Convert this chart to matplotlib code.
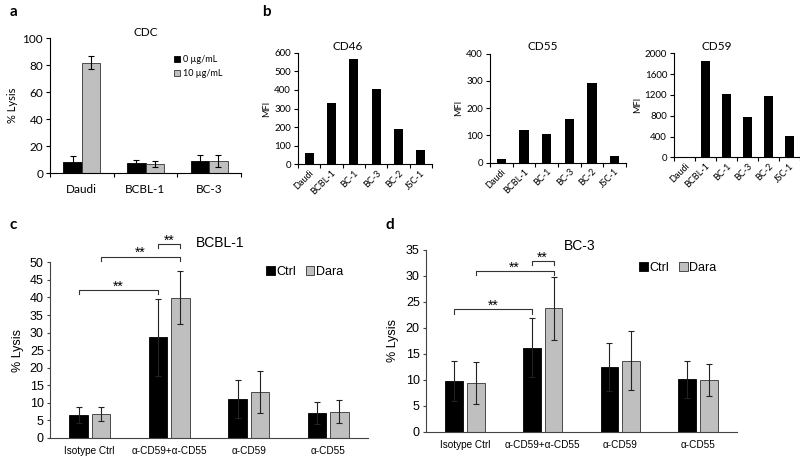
import numpy as np
import matplotlib
matplotlib.use('Agg')
import matplotlib.pyplot as plt

# --- data ---
# a: CDC
cdc_cells = ['Daudi', 'BCBL-1', 'BC-3']
cdc_0 = [8.5, 7.3, 9.0]
cdc_0_err = [4.0, 2.3, 4.8]
cdc_10 = [82.0, 7.0, 8.8]
cdc_10_err = [5.0, 2.0, 4.5]

# b: MFI
mfi_cells = ['Daudi', 'BCBL-1', 'BC-1', 'BC-3', 'BC-2', 'JSC-1']
cd46 = [59, 328, 566, 403, 188, 77]
cd55 = [12, 120, 105, 160, 291, 26]
cd59 = [15, 1858, 1211, 781, 1185, 415]

# c / d: % lysis
treatments = ['Isotype Ctrl', 'α-CD59+α-CD55', 'α-CD59', 'α-CD55']
bcbl_ctrl = [6.6, 28.6, 11.2, 7.1]
bcbl_ctrl_err = [2.3, 10.9, 5.4, 3.1]
bcbl_dara = [6.7, 39.9, 13.1, 7.5]
bcbl_dara_err = [2.0, 7.6, 5.9, 3.3]

bc3_ctrl = [9.8, 16.2, 12.5, 10.1]
bc3_ctrl_err = [3.8, 5.7, 4.6, 3.6]
bc3_dara = [9.4, 23.8, 13.7, 10.0]
bc3_dara_err = [4.0, 6.1, 5.7, 3.0]

GRAY = '#bfbfbf'
FONT_AB = ['Lato', 'DejaVu Sans']
FONT_CD = ['Liberation Sans', 'DejaVu Sans']

fig = plt.figure(figsize=(8, 4.59), dpi=100)


def px_axes(left, top, right, bottom):
    W, H = 800, 459
    return fig.add_axes([left / W, 1 - bottom / H, (right - left) / W, (bottom - top) / H])


def clean(ax, color='black'):
    ax.spines['top'].set_visible(False)
    ax.spines['right'].set_visible(False)
    ax.spines['left'].set_color(color)
    ax.spines['bottom'].set_color(color)
    ax.spines['left'].set_linewidth(0.8)
    ax.spines['bottom'].set_linewidth(0.8)


# ---------------- panel a ----------------
ax = px_axes(50, 38.3, 241, 173.3)
x = np.arange(len(cdc_cells))
w = 0.29
ekw = dict(ecolor='black', elinewidth=0.8, capsize=2, capthick=0.8)
ax.bar(x - w / 2, cdc_0, w, yerr=cdc_0_err, color='black', edgecolor='black', linewidth=0.6,
       error_kw=ekw, label='0 µg/mL')
ax.bar(x + w / 2, cdc_10, w, yerr=cdc_10_err, color=GRAY, edgecolor='#333333', linewidth=0.6,
       error_kw=ekw, label='10 µg/mL')
ax.set_xlim(-0.5, len(cdc_cells) - 0.5)
ax.set_ylim(0, 100)
ax.set_yticks(np.arange(0, 101, 20))
ax.set_xticks(x)
ax.set_xticklabels(cdc_cells, family=FONT_AB, fontsize=8.5)
ax.set_xticks(np.arange(-0.5, len(cdc_cells), 1), minor=True)
ax.tick_params(axis='x', which='major', length=0, pad=8)
ax.tick_params(axis='x', which='minor', length=3, width=0.8, direction='out')
ax.tick_params(axis='y', length=3, width=0.8, labelsize=8.5, pad=2)
for t in ax.get_yticklabels():
    t.set_family(FONT_AB)
ax.set_ylabel('% Lysis', family=FONT_AB, fontsize=8, labelpad=3)
ax.set_title('CDC', family=FONT_AB, fontsize=8.5, pad=-6)
ax.legend(loc='upper left', bbox_to_anchor=(0.63, 0.90), frameon=False,
          prop={'family': FONT_AB, 'size': 6.5}, handlelength=0.7, handleheight=0.7,
          handletextpad=0.3, labelspacing=0.55, borderaxespad=0)
clean(ax)
fig.text(10 / 800, 1 - 12 / 459, 'a', family=FONT_AB, fontsize=11, weight='bold', va='center')

# ---------------- panel b ----------------
b_specs = [
    (cd46, 'CD46', (298, 52.7, 432, 164.3), 600, 100, 348),
    (cd55, 'CD55', (490, 53.7, 626, 162.7), 400, 100, 543),
    (cd59, 'CD59', (674, 53.3, 800, 157.3), 2000, 400, 717),
]
for vals, name, box, ymax, step, tx in b_specs:
    ax = px_axes(*box)
    xb = np.arange(len(mfi_cells))
    ax.bar(xb, vals, 0.4, color='black')
    ax.set_xlim(-0.5, len(mfi_cells) - 0.5)
    ax.set_ylim(0, ymax)
    ax.set_yticks(np.arange(0, ymax + 1, step))
    ax.set_xticks(xb)
    ax.set_xticklabels(mfi_cells, rotation=45, ha='right', rotation_mode='anchor',
                       family=FONT_AB, fontsize=6.5)
    ax.set_xticks(np.arange(-0.5, len(mfi_cells), 1), minor=True)
    ax.tick_params(axis='x', which='major', length=0, pad=3)
    ax.tick_params(axis='x', which='minor', length=3, width=0.8, direction='out')
    ax.tick_params(axis='y', length=3, width=0.8, labelsize=7, pad=2)
    for t in ax.get_yticklabels():
        t.set_family(FONT_AB)
    ax.set_ylabel('MFI', family=FONT_AB, fontsize=6.5, labelpad=2)
    fig.text(tx / 800, 1 - 46 / 459, name, family=FONT_AB, fontsize=8.5, ha='center', va='center')
    clean(ax)
fig.text(262 / 800, 1 - 12 / 459, 'b', family=FONT_AB, fontsize=11, weight='bold', va='center')


# ---------------- panels c / d ----------------
def bracket(ax, x1, x2, y, drop, label_fs=10):
    ax.plot([x1, x1, x2, x2], [y - drop, y, y, y - drop], color='#333333', lw=0.8, clip_on=False)
    ax.annotate('**', xy=((x1 + x2) / 2, y), xytext=(0, -2.5), textcoords='offset points',
                ha='center', va='bottom', fontsize=label_fs, family=FONT_CD,
                annotation_clip=False)


def lysis_panel(box, ctrl, ctrl_err, dara, dara_err, ymax, title, title_xy, leg_xy, levels):
    ax = px_axes(*box)
    xc = np.arange(len(treatments))
    w = 0.23
    off = 0.14
    ekw = dict(ecolor='#222222', elinewidth=0.8, capsize=2, capthick=0.8)
    ax.bar(xc - off, ctrl, w, yerr=ctrl_err, color='black', edgecolor='black', linewidth=0.6,
           error_kw=ekw, label='Ctrl')
    ax.bar(xc + off, dara, w, yerr=dara_err, color=GRAY, edgecolor='#333333', linewidth=0.6,
           error_kw=ekw, label='Dara')
    ax.set_xlim(-0.5, len(treatments) - 0.5)
    ax.set_ylim(0, ymax)
    ax.set_yticks(np.arange(0, ymax + 1, 5))
    ax.set_xticks(xc)
    ax.set_xticklabels(treatments, family=FONT_CD, fontsize=7.2)
    ax.tick_params(axis='x', length=0, pad=6)
    ax.tick_params(axis='y', length=2.5, width=0.8, labelsize=9, pad=2, color='#444444')
    for t in ax.get_yticklabels():
        t.set_family(FONT_CD)
    clean(ax, '#444444')
    ax.text(*title_xy, title, transform=ax.transAxes, family=FONT_CD, fontsize=10,
            ha='center', va='center')
    ax.legend(loc='center', bbox_to_anchor=leg_xy, ncol=2, frameon=False,
              prop={'family': FONT_CD, 'size': 9}, handlelength=0.7, handleheight=0.7,
              handletextpad=0.1, columnspacing=0.8, borderaxespad=0)
    # significance brackets: (x1, x2, level as fraction of y range)
    lo, hi, small = levels
    bracket(ax, 0 - off, 1 - off, lo * ymax, 0.025 * ymax)
    bracket(ax, 0 + off, 1 + off, hi * ymax, 0.022 * ymax)
    bracket(ax, 1 - off, 1 + off, small * ymax, 0.024 * ymax)
    return ax


ax_c = lysis_panel((50, 262.3, 368, 438), bcbl_ctrl, bcbl_ctrl_err, bcbl_dara, bcbl_dara_err,
                   50, 'BCBL-1', (0.535, 1.11), (0.80, 0.946), (0.843, 1.032, 1.104))
ax_c.set_ylabel('% Lysis', family=FONT_CD, fontsize=9, labelpad=4)

ax_d = lysis_panel((426, 250, 737, 432), bc3_ctrl, bc3_ctrl_err, bc3_dara, bc3_dara_err,
                   35, 'BC-3', (0.495, 1.022), (0.81, 0.90), (0.674, 0.883, 0.94))
ax_d.set_ylabel('% Lysis', family=FONT_CD, fontsize=9, labelpad=5)

fig.text(10 / 800, 1 - 225 / 459, 'c', family=FONT_AB, fontsize=11, weight='bold', va='center')
fig.text(386 / 800, 1 - 225 / 459, 'd', family=FONT_AB, fontsize=11, weight='bold', va='center')

fig.savefig('out.png', dpi=100)
